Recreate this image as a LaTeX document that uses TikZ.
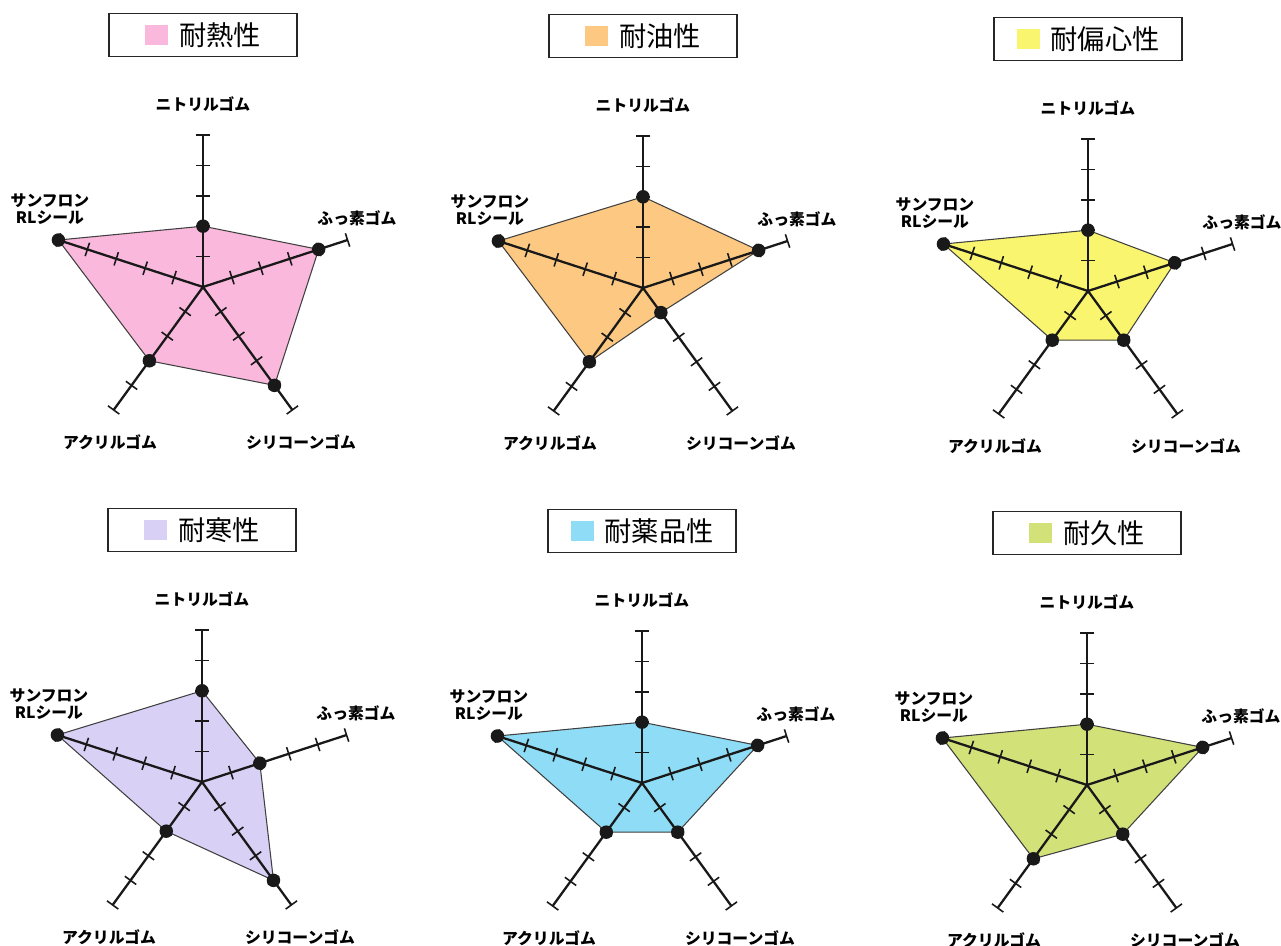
\documentclass[tikz,border=0pt]{standalone}
\usepackage{fontspec}
\setmainfont{Noto Sans CJK JP}
\usepackage{tikz}
\usetikzlibrary{positioning}

\definecolor{heatpink}{RGB}{249,184,220}
\definecolor{oilorange}{RGB}{252,200,130}
\definecolor{eccyellow}{RGB}{250,245,110}
\definecolor{coldlilac}{RGB}{216,208,245}
\definecolor{chemblue}{RGB}{142,220,245}
\definecolor{durgreen}{RGB}{210,225,120}

% #1 name, #2 centre, #3 title, #4 colour, #5-#9 values
\newcommand{\radar}[9]{%
  \begin{scope}[shift={#2}]
    \coordinate (#1-c) at (0,0);
    \node[titlebox] (#1-t) at (0,252) {{\color{#4}\rule{0.46cm}{0.40cm}}\hspace{0.22cm}#3};
    \coordinate (#1-p1) at (90:#5*30.4);
    \coordinate (#1-p2) at (18:#6*30.4);
    \coordinate (#1-p3) at (-54:#7*30.4);
    \coordinate (#1-p4) at (-126:#8*30.4);
    \coordinate (#1-p5) at (162:#9*30.4);
    \filldraw[area, fill=#4] (#1-p1) -- (#1-p2) -- (#1-p3) -- (#1-p4) -- (#1-p5) -- cycle;
    \foreach \ang [count=\i] in {90,18,-54,-126,162} {
      \coordinate (#1-e\i) at (\ang:152);
      \draw[axis] (#1-c) -- (#1-e\i);
      \foreach \k in {1,...,5}
        \draw[tick, rotate=\ang] (\k*30.4,-7) -- (\k*30.4,7);
    }
    \foreach \i in {1,...,5}
      \node[dot] (#1-v\i) at (#1-p\i) {};
    \node[lbl] (#1-l1) at (0,183) {ニトリルゴム};
    \node[lbl] (#1-l2) at (154,69) {ふっ素ゴム};
    \node[lbl] (#1-l3) at (98,-155) {シリコーンゴム};
    \node[lbl] (#1-l4) at (-93,-155) {アクリルゴム};
    \node[lbl, align=center] (#1-l5) at (-153,78) {サンフロン\\RLシール};
  \end{scope}}

\begin{document}
\begin{tikzpicture}[x=0.02cm, y=0.02cm,
    titlebox/.style={draw=black!85, line width=1pt, fill=white, minimum width=3.76cm, minimum height=0.86cm, inner sep=0pt, font=\fontsize{15.5}{16}\selectfont},
    area/.style={draw=black!75, line width=0.6pt, line join=round},
    axis/.style={draw=black!90, line width=1.3pt},
    tick/.style={draw=black!90, line width=0.9pt},
    dot/.style={circle, fill=black!90, inner sep=0pt, minimum size=0.27cm},
    lbl/.style={inner sep=0pt, font=\fontsize{9}{9.5}\selectfont\bfseries}]
  \useasboundingbox[fill=white] (0,0) rectangle (1281,946);

  \radar{heat}{(203,659)}{耐熱性}{heatpink}{2}{4}{4}{3}{5}
  \radar{oil}{(643,658)}{耐油性}{oilorange}{3}{4}{1}{3}{5}
  \radar{ecc}{(1088,655)}{耐偏心性}{eccyellow}{2}{3}{2}{2}{5}
  \radar{cold}{(202,164)}{耐寒性}{coldlilac}{3}{2}{4}{2}{5}
  \radar{chem}{(642,163)}{耐薬品性}{chemblue}{2}{4}{2}{2}{5}
  \radar{dur}{(1087,161)}{耐久性}{durgreen}{2}{4}{2}{3}{5}
\end{tikzpicture}
\end{document}
